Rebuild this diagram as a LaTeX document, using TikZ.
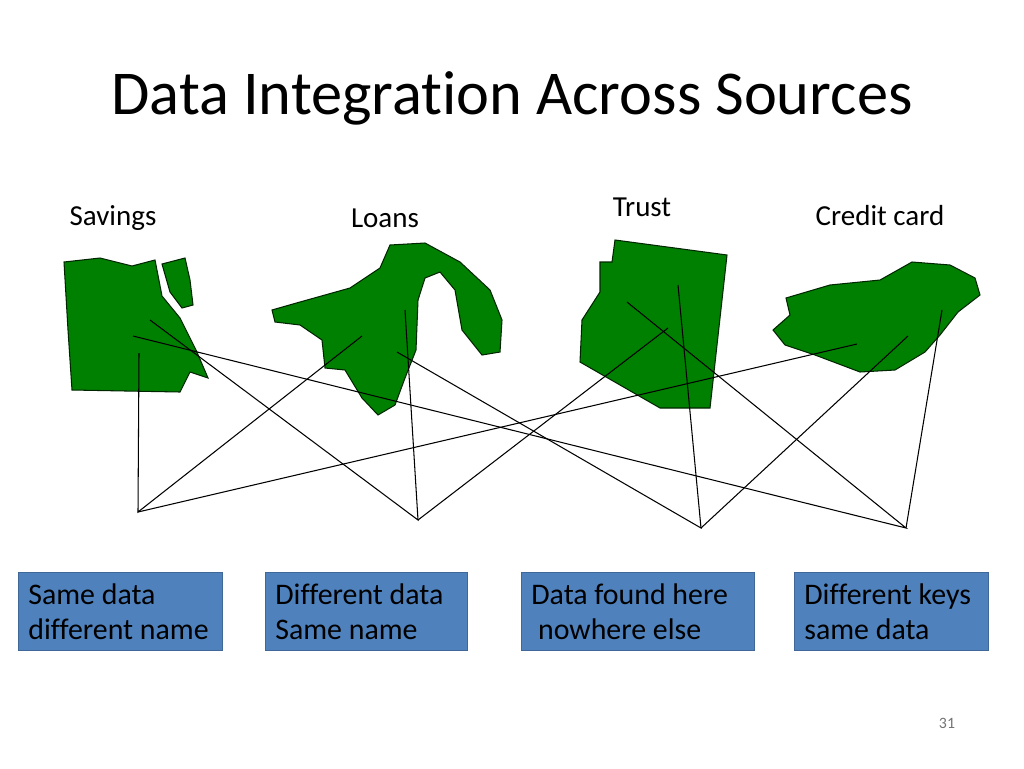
\documentclass[tikz,border=0pt]{standalone}
\usepackage{fontspec}
\setmainfont[Ligatures=NoCommon]{Carlito}
\definecolor{carte}{RGB}{0,128,0}
\definecolor{boite}{RGB}{79,129,189}
\begin{document}
\begin{tikzpicture}[x=0.02cm, y=-0.02cm]
  \tikzstyle{carte}=[fill=carte, draw=black!70!carte, line width=0.6pt];
  \tikzstyle{nom}=[font=\fontsize{16.5}{19}\selectfont, inner sep=0];
  \tikzstyle{cas}=[fill=boite, draw=boite!80!black, minimum width=#1, minimum height=78*0.02cm, anchor=north west];
  \tikzstyle{texte}=[align=left, font=\fontsize{17}{20}\selectfont, inner sep=0, anchor=west];
  \tikzstyle{lien}=[black, line width=0.6pt];

  \useasboundingbox (0,0) rectangle (1024,768);

  \node[font=\fontsize{35.5}{40}\selectfont] (titre) at (512,98) {Data Integration Across Sources};

  \node[nom] (savings) at (113,218) {Savings};
  \node[nom] (loans) at (385,218) {Loans};
  \node[nom] (trust) at (642,207) {Trust};
  \node[nom] (credit) at (880,216) {Credit card};

  % cartes
  \draw[carte] (64,262) -- (100,258) -- (132,266) -- (155,260) -- (162,296) -- (180,318) -- (196,350) -- (208,378) -- (190,372) -- (180,392) -- (72,390) -- (68,330) -- cycle;
  \draw[carte] (162,264) -- (185,258) -- (190,280) -- (193,305) -- (182,308) -- (170,292) -- cycle;
  \draw[carte] (272,310) -- (300,302) -- (350,288) -- (380,268) -- (390,245) -- (425,243) -- (460,262) -- (490,290) -- (502,320) -- (500,352) -- (482,355) -- (462,330) -- (455,290) -- (440,272) -- (425,278) -- (418,300) -- (416,350) -- (405,378) -- (395,405) -- (378,415) -- (362,398) -- (345,370) -- (325,368) -- (322,340) -- (300,325) -- (275,322) -- cycle;
  \draw[carte] (615,240) -- (727,255) -- (710,408) -- (660,408) -- (580,362) -- (582,320) -- (600,292) -- (600,262) -- (612,262) -- cycle;
  \draw[carte] (786,298) -- (830,285) -- (880,280) -- (912,262) -- (950,265) -- (975,278) -- (980,295) -- (958,312) -- (940,335) -- (925,352) -- (895,370) -- (860,372) -- (815,355) -- (785,345) -- (773,330) -- (790,315) -- cycle;

  % points de depart
  \coordinate (s1) at (150,320);
  \coordinate (s2) at (133,336);
  \coordinate (s3) at (139,353);
  \coordinate (l1) at (362,336);
  \coordinate (l2) at (405,310);
  \coordinate (l3) at (397,352);
  \coordinate (t1) at (627,302);
  \coordinate (t2) at (678,285);
  \coordinate (t3) at (668,328);
  \coordinate (c1) at (857,344);
  \coordinate (c2) at (908,336);
  \coordinate (c3) at (942,310);

  % points d'arrivee
  \coordinate (b1) at (138,512);
  \coordinate (b2) at (418,520);
  \coordinate (b3) at (701,528);
  \coordinate (b4) at (906,528);

  \draw[lien] (s3) -- (b1) -- (l1);
  \draw[lien] (b1) -- (c1);
  \draw[lien] (s1) -- (b2) -- (l2);
  \draw[lien] (b2) -- (t3);
  \draw[lien] (l3) -- (b3) -- (t2);
  \draw[lien] (b3) -- (c2);
  \draw[lien] (s2) -- (b4) -- (t1);
  \draw[lien] (b4) -- (c3);

  \node[cas=204*0.02cm] (same) at (18,572) {};
  \node[cas=202*0.02cm] (diff) at (265,572) {};
  \node[cas=233*0.02cm] (found) at (521,572) {};
  \node[cas=194*0.02cm] (keys) at (794,572) {};
  \node[texte] at (28,612) {Same data\\different name};
  \node[texte] at (275,612) {Different data\\Same name};
  \node[texte] at (531,612) {Data found here\\\ nowhere else};
  \node[texte] at (804,612) {Different keys\\same data};

  \node[font=\fontsize{9}{11}\selectfont, text=black!55] (page) at (947,723) {31};
\end{tikzpicture}
\end{document}
